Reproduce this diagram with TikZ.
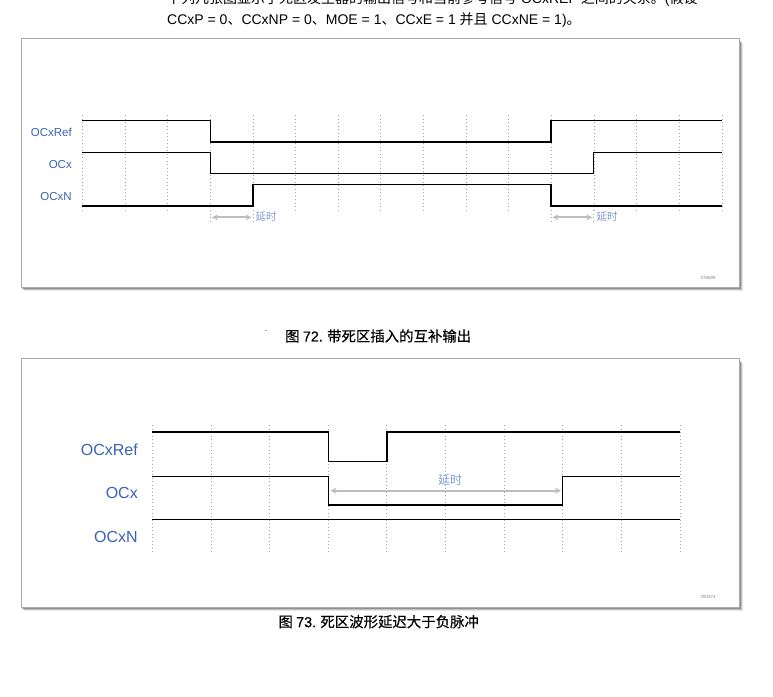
\documentclass[tikz,border=0pt]{standalone}
\usepackage{fontspec}
\setmainfont{Liberation Sans}
\newfontfamily\cjk{Noto Sans CJK SC}
\newfontfamily\cjkcap[FakeBold=0.3]{Noto Sans CJK SC}
\newfontfamily\latcap[FakeBold=0.3]{Liberation Sans}
\usetikzlibrary{arrows.meta}
\definecolor{lblblue}{HTML}{3A62B5}
\definecolor{dlyblue}{HTML}{7D9BD6}
\definecolor{gridgray}{HTML}{A8A8A8}
\definecolor{arrgray}{HTML}{BEBEBE}
\definecolor{boxgray}{HTML}{ABABAB}
\definecolor{txtgray}{HTML}{8A8A8A}
\tikzset{
  frame/.style={draw=boxgray, line width=1pt, fill=white},
  gridline/.style={gridgray, line width=0.8pt, dash pattern=on 0.9pt off 2.6pt},
  wave/.style={black, line width=1.3pt},
  siglbl/.style={text=lblblue, anchor=east, inner sep=0pt},
  dly/.style={arrgray, line width=1.8pt, {Stealth[length=6pt,width=6pt]}-{Stealth[length=6pt,width=6pt]}},
  dlylbl/.style={text=dlyblue, inner sep=0pt, font=\cjk\fontsize{10.5}{12}\selectfont},
  figid/.style={text=txtgray, inner sep=0pt, font=\fontsize{4.5}{5}\selectfont},
  caption/.style={inner sep=0pt, anchor=west, font=\cjkcap\fontsize{14.4}{16}\selectfont},
  bodytext/.style={inner sep=0pt, anchor=west, font=\fontsize{14}{16}\selectfont}
}
\begin{document}
\begin{tikzpicture}[x=1pt,y=-1pt]
\useasboundingbox (0,0) rectangle (773,696);
\clip (0,0) rectangle (773,696);

% body text (top line partly cut off, as in the reference)
\node[bodytext] (t1) at (167,-1) {{\cjk 下列几张图显示了死区发生器的输出信号和当前参考信号} OCxREF {\cjk 之间的关系。}({\cjk 假设}};
\node[bodytext] (t2) at (167,20) {CCxP = 0{\cjk 、}CCxNP = 0{\cjk 、}MOE = 1{\cjk 、}CCxE = 1 {\cjk 并且} CCxNE = 1){\cjk 。}};

% ---------- figure 72 ----------
\foreach \i/\o in {3/0.10,2/0.16,1/0.25}{
  \fill[black, opacity=\o] (21+\i,38+\i+2) rectangle (739+\i+1,287+\i+1);
}
\draw[frame] (21,38) rectangle (739,287);

\foreach \k in {0,...,15}{
  \draw[gridline] ({82.3+42.65*\k},115) -- ({82.3+42.65*\k},210);
}
\foreach \xx in {210.3,252.95,551,593.7}{
  \draw[gridline] (\xx,210) -- (\xx,222);
}

\draw[wave] (82.3,120.7) -| (210.3,142) -| (551,120.7) -- (722,120.7);
\draw[wave] (82.3,152.3) -| (210.3,173.7) -| (593.7,152.3) -- (722,152.3);
\draw[wave] (82.3,206) -| (252.95,184.7) -| (551,206) -- (722,206);

\node[siglbl, font=\fontsize{11.5}{13}\selectfont] (r1) at (72,132.5) {OCxRef};
\node[siglbl, font=\fontsize{11.5}{13}\selectfont] (x1) at (72,164.5) {OCx};
\node[siglbl, font=\fontsize{11.5}{13}\selectfont] (n1) at (72,196.5) {OCxN};

\coordinate (d1a) at (212,217.3);
\coordinate (d1b) at (251.5,217.3);
\draw[dly] (d1a) -- (d1b);
\node[dlylbl, anchor=west] (l1) at (255.5,216.5) {延时};
\coordinate (d2a) at (552.5,217.3);
\coordinate (d2b) at (592.3,217.3);
\draw[dly] (d2a) -- (d2b);
\node[dlylbl, anchor=west] (l2) at (596.5,216.5) {延时};

\node[figid] (id1) at (708,278) {376699};

\node[text=txtgray, inner sep=0pt, font=\fontsize{9}{10}\selectfont] (dash) at (266,332) {-};
\node[caption] (c1) at (285,336) {图 {\latcap 72.} 带死区插入的互补输出};

% ---------- figure 73 ----------
\foreach \i/\o in {3/0.10,2/0.16,1/0.25}{
  \fill[black, opacity=\o] (21+\i,358+\i+2) rectangle (739+\i+1,607+\i+1);
}
\draw[frame] (21,358) rectangle (739,607);

\foreach \k in {0,...,9}{
  \draw[gridline] ({152.3+58.64*\k},425) -- ({152.3+58.64*\k},554);
}

\draw[wave] (152.3,432) -| (328.7,461.3) -| (387,432) -- (680,432);
\draw[wave] (152.3,476.3) -| (328.7,505) -| (562.7,476.3) -- (680,476.3);
\draw[wave] (152.3,519.3) -- (680,519.3);

\node[siglbl, font=\fontsize{16}{18}\selectfont] (r2) at (138,449.3) {OCxRef};
\node[siglbl, font=\fontsize{16}{18}\selectfont] (x2) at (138,492.7) {OCx};
\node[siglbl, font=\fontsize{16}{18}\selectfont] (n2) at (138,536.7) {OCxN};

\coordinate (d3a) at (330.5,490.7);
\coordinate (d3b) at (561,490.7);
\draw[dly] (d3a) -- (d3b);
\node[dlylbl, font=\cjk\fontsize{12}{14}\selectfont] (l3) at (450,480) {延时};

\node[figid] (id2) at (708,597) {393374};

\node[caption] (c2) at (278.3,621.7) {图 {\latcap 73.} 死区波形延迟大于负脉冲};
\end{tikzpicture}
\end{document}
